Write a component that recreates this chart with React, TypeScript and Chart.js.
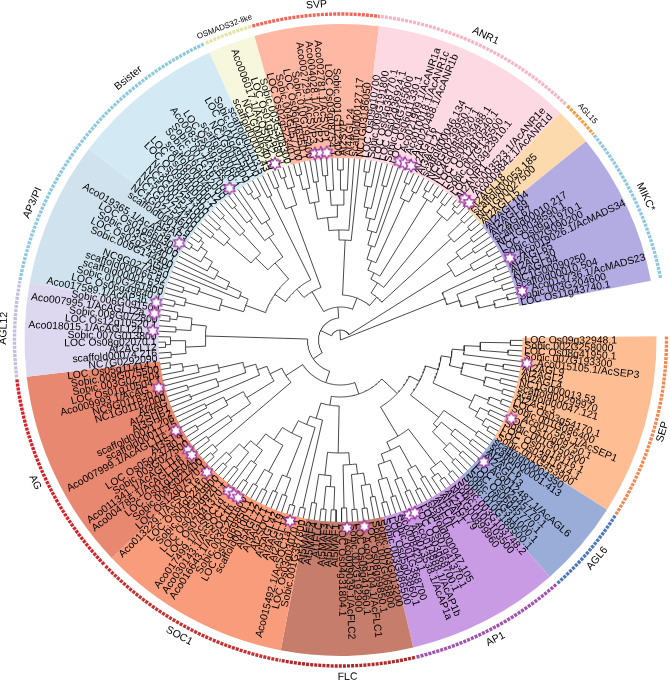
import React, { useEffect, useRef } from "react";
import { Chart, registerables } from "chart.js";

Chart.register(...registerables);

type T = number | T[];

const cladeNames = ["SEP","AGL6","AP1","FLC","SOC1","AG","AGL12","AP3/PI","Bsister","OSMADS32-like","SVP","ANR1","AGL15","MIKC*"];
const cladeBounds = [89.3,122.5,138.5,166.7,190.9,226.4,263.3,280.5,307.2,335.5,344.2,367,404,411,439.2];
const sectorColors = ["#FFBD94","#9AADD9","#C99BE5","#C77D6C","#F89C7C","#E98870","#DDD8F0","#CFE2EE","#D3EAF5","#F6F7DC","#FFB8A4","#FDD9E4","#FDD9AE","#B3ACE2"];
const ringColors = ["#F08A55","#4C78BE","#A050B0","#B02A2A","#C83030","#D82028","#C4BEE0","#8CC8E0","#8CC8E0","#E4E4A0","#F0685A","#F8B4C4","#F0A04A","#90C8E0"];
const cladeLabelAngles = [105.9,130.4,152.6,178.8,208.6,245,272,294,321,339.7,355.9,25.5,47.5,64.9];
const cladeLabelRadii = [335,337,337,337,337,337,337,337,337,334,336,337,335,337];
const cladeLabelSizes = [10.5,10.5,10.5,10.5,10.5,10.5,10.5,10.5,10.5,8,10.5,10.5,8,10.5];

const sepTaxa = ["LOC Os09g32948.1","Sobic.002G258000","LOC Os08g41950.1","Sobic.007G193300","Aco015105.1/AcSEP3","At2AGL9","At2AGL2","At2AGL4","NC1G000013.53","scaffold00299970","scaffold00047.121","At2AGL3","LOC Os03g54170.1","Sobic.001G086400","Aco017563.1/AcSEP1","LOC Os10g09750.1","Sobic.001G050500","LOC Os01g18116.1","LOC Os03g11614.1","Sobic.001G453900"];
const agl6Taxa = ["scaffold00004350","scaffold00001.413","At2AGL6","At2AGL13","Aco012487.1/AcAGL6","LOC Os02g45770.1","LOC Os06g45770.1","Sobic.004G311000.1","Sobic.010G189500.1"];
const ap1Taxa = ["Sobic.003G103748.2","Sobic.010G103500","NC1G00899960","At2AGL79","At5AP1","At1CAL","At5FUL","scaffold000047.105","LOC Os07g41370.1","LOC Os03g68700.1","Aco014888.1/AcAP1b","Aco013538.1/AcAP1a","Aco008420.1","Sobic.001G368700","LOC Os05g03860.1","Sobic.003G086500"];
const flcTaxa = ["Sobic.003G013200","Sobic.007G068800","LOC Os08g69850.1","Aco015104.1/AcFLC1","LOC Os09g41960.1","Sobic.002G192900","Aco009039.1/AcFLC2","LOC Os04g31804.1","At5MAF1","At5MAF2","At5MAF3","At1FLC","At5MAF4","At5MAF5"];
const soc1Taxa = ["Sobic.001G387800","LOC Os03g03070.1","Aco015492.1/AcSOC1a","At2AGL14","At4AGL19","At5AGL42","At2SOC1","At3AGL71","At5AGL72","scaffold00100.12","LOC Os01g69850.1","Sobic.003G201600","Aco016643.1/AcSOC1b","Aco030143.1/AcSOC1c","Aco017499.1/AcSOC1d","LOC Os07g41370.1","LOC Os02g29920.1","Sobic.004G029900","LOC Os04g52410.1","Aco013229.1/AcSOC1e"];
const agTaxa = ["LOC Os12g07570.1","Sobic.008G021400","LOC Os01g10504.2","Aco004785.1/AcAGL11b","Aco011341.1/AcAGL11a","Sobic.003G027500","LOC Os05g23780.1","At3STK","Aco007999.1/AcAGL11c","scaffold00011.15","scaffold00021.206","At3SHP2","At2SHP1","At4AG","NC1G01182000","NC9G01183010","Aco009993.1/AcAG","LOC Os01g10504.1","Sobic.003G027504","Sobic.009G075500","LOC Os05g11414.1"];
const agl12Taxa = ["NC7G0292090","scaffold00074.216","At2AGL12","LOC Os08g02070.1","Sobic.007G013800","Aco018015.1/AcAGL12b","LOC Os12g10520.1","Sobic.008G072800","Aco007995.1/AcAGL12a","Sobic.006G091500"];
const ap3Taxa = ["Aco017589.1/AcAP3b","LOC Os06g49840.1","Sobic.010G261800","scaffold00001.625","scaffold000066.87","NC9G0274550","At5PI","Sobic.009G144400","LOC Os02g24340.1","Sobic.003G366300","LOC Os01g66030.1","Aco019365.1/AcAP3a","At3AP3","scaffold00014.9","NC1G02754600"];
const bsisterTaxa = ["NC1G02754200","NC5G00254400","NC9G00257100","NC3G00254300","LOC Os09g40000.1","LOC Os08g40000.2","scaffold00048.12","Sobic.006G092000","Sobic.007G167000","Aco008359.1/AcBs","LOC Os08g39400.1","scaffold00069.7","NC1G0007800","LOC Os04g49150.1","Sobic.010G165100","scaffold00103.5"];
const osmTaxa = ["scaffold00002.43","NC1G00064010","Aco006017.1/AcOSM32","LOC Os01g52680.1","Sobic.003G308300"];
const svpTaxa = ["LOC Os02g52340.1","Sobic.004G057700","LOC Os06g46950.1","Sobic.010G195400","Aco002729.1/AcSVP3","Aco004028.1/AcSVP2","Aco002781.1/AcSVP1","LOC Os03g08754.1","Sobic.001G112300","At2SVP","At4AGL24","scaffold00127.17","NC1G03186050"];
const anr1Taxa = ["LOC Os09g10700","Sobic.009G191800","LOC Os04g38770.1","LOC Os02g36924.1","Sobic.004G165000","LOC Os06g11330.1","Aco021909.1/AcANR1a","Aco010018.1/AcANR1c","Aco020488.1/AcANR1b","At2AGL16","At3AGL21","scaffold00046.134","NC6G00239950.1","NC4G00850020.1","LOC Os08g33488.1","LOC Os12g10540.1","Sobic.007G135500","LOC Os03g23910.1","At2ANR1","Aco003523.1/AcANR1e","Aco009842.1/AcANR1d"];
const agl15Taxa = ["At2AGL18","scaffold00053.185","NC1G00027500","At2AGL15"];
const mikcTaxa = ["At2AGL104","At2AGL69","At2AGL67","scaffold00010.217","NC1G0038590.1","LOC Os09g11970.1","Sobic.002G090200","Aco019026.1/AcMADS34","At2AGL65","At2AGL30","At2AGL94","NC1G00090250","scaffold00010.504","Aco013736.1/AcMADS23","Sobic.003G204600","LOC Os11g43740.1"];
const allTaxa = [sepTaxa,agl6Taxa,ap1Taxa,flcTaxa,soc1Taxa,agTaxa,agl12Taxa,ap3Taxa,bsisterTaxa,osmTaxa,svpTaxa,anr1Taxa,agl15Taxa,mikcTaxa];

const starAngles = [339.6,323.8,352.2,354,355.8,18.3,20.05,22.05,41.3,43.2,64.2,74.9,301,281.5,278.1,272.8,255.3,241.2,234.1,232.3,225.3,216.6,214.6,213,195.6,178,172.7,158.6,156.7,97.1,114.7,130.4];

// Each tree node: [radius, ...children]; 0 is a tip.
const sepTree: T = [102,[112,[124,[140,[170,0,0],[168,0,0]],0],[125,[148,[165,0,0],0],[150,[165,0,0],[170,0,0]]]],[145,[160,[172,0,0],0],[155,[165,0,0],[165,0,[172,0,0]]]]];
const agl6Tree: T = [125,[165,0,0],[130,[145,[165,0,0],0],[150,[165,0,0],[165,0,0]]]];
const ap1Tree: T = [112,[157,[172,0,0],[165,[172,0,0],0]],[121,[146,[160,0,0],[168,0,0]],[130,[150,[165,0,0],0],[145,[165,0,0],[168,0,0]]]]];
const flcTree: T = [113,[125,[135,[147,[160,0,0],[170,0,0]],[170,0,0]],[168,0,0]],[136,[147,[170,0,0],[170,0,0]],[165,0,0]]];
const soc1Tree: T = [82,[172,0,0],[91,[172,0,0],[105,[147,[165,0,0],[165,0,0]],[120,[150,[168,0,0],[168,0,0]],[135,[150,[170,0,0],0],[145,[165,0,0],[160,[170,0,0],0]]]]]]];
const agTree: T = [65,[165,[172,0,0],0],[78,[110,[135,[165,0,0],0],[130,[150,[168,0,0],0],[150,0,0]]],[88,0,[100,[130,[160,0,0],[160,0,0]],[125,0,[145,0,[160,0,[172,0,0]]]]]]]];
const agl12Tree: T = [135,[155,[170,0,0],[170,[175,0,0],0]],[150,[165,0,0],[165,[172,0,0],0]]];
const ap3Tree: T = [101,[125,[160,[170,0,0],0],[150,[165,0,0],0]],[110,0,[125,0,[140,0,[150,0,[160,0,[168,[176,0,0],[172,0,0]]]]]]]];
const bsTreeA: T = [118,[150,[165,0,0],[165,0,0]],[145,[170,0,0],0]];
const bsTreeB: T = [125,[150,[170,0,0],0],[140,0,[165,[172,0,0],0]]];
const bsTreeC: T = [160,0,0];
const osmTree: T = [142,[165,0,0],[160,[172,0,0],0]];
const svpTree: T = [100,[110,[123,[140,[155,[170,0,0],0],[160,0,0]],[135,[150,[165,0,0],0],[150,[170,0,0],0]]],0],0];
const anr1Tree: T = [68,[75,[85,[99,[113,[125,[135,[156,[170,0,0],0],0],[160,0,0]],0],0],[154,[170,0,0],[165,0,0]]],[165,[172,0,0],[172,0,0]]],[160,[170,0,0],[172,[176,0,0],0]]];
const agl15Tree: T = [150,[170,0,0],[170,0,0]];
const mikcTreeA: T = [131,[145,[165,0,0],[160,0,0]],[150,[170,0,0],0]];
const mikcTreeB: T = [112,[172,0,0],[125,[165,0,0],[142,[170,0,0],[158,[172,0,0],0]]]];

const rootTree: T = [0,
  [10,
    [22,
      [33,[45,[57,[78,[89,sepTree,agl6Tree],ap1Tree],[66,flcTree,soc1Tree]],agTree],agl12Tree],
      [33,
        [56,[67,[80,ap3Tree,[101,bsTreeA,bsTreeB]],bsTreeC],osmTree],
        [45,svpTree,[56,anr1Tree,agl15Tree]]
      ]
    ],
    mikcTreeA
  ],
  mikcTreeB
];

const TIP_R = 182;
const SECTOR_R = 316;
const RING_R = 326;
const STAR_R = 188;
const LONG_LABEL_OFFSET = 14;
const CX = 340.5;
const CY = 340;

const rad = (d: number) => (d * Math.PI) / 180;
const polar = (r: number, deg: number) => ({ x: r * Math.sin(rad(deg)), y: r * Math.cos(rad(deg)) });
const arcPts = (r: number, a: number, b: number) => {
  const n = Math.max(1, Math.ceil(Math.abs(b - a) / 1));
  const out = [] as { x: number; y: number }[];
  for (let i = 0; i <= n; i++) out.push(polar(r, a + ((b - a) * i) / n));
  return out;
};

function tipAngles() {
  const out: number[] = [];
  allTaxa.forEach((list, c) => {
    const a = cladeBounds[c];
    const b = cladeBounds[c + 1];
    list.forEach((_, i) => out.push(a + ((i + 0.5) * (b - a)) / list.length));
  });
  return out;
}

function treePoints(tips: number[]) {
  const pts: { x: number; y: number }[] = [];
  const gap = { x: NaN, y: NaN };
  let idx = 0;
  const walk = (node: T): { a: number; r: number } => {
    if (!Array.isArray(node)) return { a: tips[idx++], r: TIP_R };
    const [r, ...kids] = node as [number, ...T[]];
    const res = kids.map(walk);
    const first = res[0].a;
    const last = res[res.length - 1].a;
    if (r > 0) {
      pts.push(...arcPts(r, first, last), gap);
    }
    res.forEach((k) => pts.push(polar(r, k.a), polar(k.r, k.a), gap));
    return { a: (first + last) / 2, r };
  };
  walk(rootTree);
  return pts;
}

function starImage() {
  const c = document.createElement("canvas");
  c.width = 16;
  c.height = 16;
  const g = c.getContext("2d")!;
  g.beginPath();
  for (let i = 0; i < 12; i++) {
    const r = i % 2 ? 3.5 : 6.4;
    const a = (i * Math.PI) / 6;
    const x = 8 + r * Math.sin(a);
    const y = 8 - r * Math.cos(a);
    if (i) g.lineTo(x, y);
    else g.moveTo(x, y);
  }
  g.closePath();
  g.fillStyle = "#ffffff";
  g.strokeStyle = "#9B2FA0";
  g.lineWidth = 1.2;
  g.fill();
  g.stroke();
  return c;
}

const textPlugin = {
  id: "treeText",
  beforeDatasetsDraw(chart: any) {
    const { ctx, scales } = chart;
    const tips = tipAngles();
    const flat = allTaxa.flat();
    ctx.save();
    ctx.fillStyle = "#000";
    ctx.textBaseline = "middle";
    ctx.font = '10.4px "Liberation Sans"';
    flat.forEach((label: string, i: number) => {
      const a = ((tips[i] % 360) + 360) % 360;
      const extra = label.includes("/Ac") ? LONG_LABEL_OFFSET : 0;
      const p = polar(TIP_R + 2 + extra, a);
      ctx.save();
      ctx.translate(scales.x.getPixelForValue(p.x), scales.y.getPixelForValue(p.y));
      if (a < 180) {
        ctx.rotate(rad(a - 90));
        ctx.textAlign = "left";
      } else {
        ctx.rotate(rad(a + 90));
        ctx.textAlign = "right";
      }
      ctx.fillText(label, 0, 0);
      ctx.restore();
    });
    cladeNames.forEach((name, i) => {
      const a = cladeLabelAngles[i];
      const p = polar(cladeLabelRadii[i], a);
      let rot = a;
      if (a > 90 && a <= 270) rot = a - 180;
      else if (a > 270) rot = a - 360;
      ctx.save();
      ctx.translate(scales.x.getPixelForValue(p.x), scales.y.getPixelForValue(p.y));
      ctx.rotate(rad(rot));
      ctx.textAlign = "center";
      ctx.font = `${cladeLabelSizes[i]}px "Liberation Sans"`;
      ctx.fillText(name, 0, 0);
      ctx.restore();
    });
    ctx.restore();
  },
};

export default function App() {
  const sectorRef = useRef<HTMLCanvasElement>(null);
  const treeRef = useRef<HTMLCanvasElement>(null);

  useEffect(() => {
    const sweeps = sectorColors.map((_, i) => cladeBounds[i + 1] - cladeBounds[i]);
    const sectors = new Chart(sectorRef.current!, {
      type: "doughnut",
      data: {
        labels: [...cladeNames, ""],
        datasets: [{
          data: [...sweeps, 360 - (cladeBounds[14] - cladeBounds[0])],
          backgroundColor: [...sectorColors, "rgba(0,0,0,0)"],
          borderWidth: 0,
          hoverOffset: 0,
        }],
      },
      options: {
        animation: false,
        responsive: false,
        rotation: cladeBounds[0],
        circumference: 360,
        radius: SECTOR_R,
        cutout: `${(TIP_R / SECTOR_R) * 100}%`,
        layout: { autoPadding: false, padding: { left: 2 * CX - 670, top: 0, right: 0, bottom: 0 } },
        plugins: { legend: { display: false }, tooltip: { enabled: false } },
        events: [],
      } as any,
    });

    const tips = tipAngles();
    const star = starImage();
    const rings = cladeNames.map((name, i) => ({
      label: name,
      data: arcPts(RING_R, cladeBounds[i] + 0.1, cladeBounds[i + 1] - 0.1),
      showLine: true,
      borderColor: ringColors[i],
      borderWidth: 3.4,
      borderDash: [3, 1.1],
      pointRadius: 0,
      tension: 0,
    }));
    const tree = new Chart(treeRef.current!, {
      type: "scatter",
      data: {
        datasets: [
          {
            label: "nodes",
            data: starAngles.map((a) => polar(STAR_R, a)),
            pointStyle: star,
            pointRadius: 8,
            showLine: false,
          },
          {
            label: "tree",
            data: treePoints(tips),
            showLine: true,
            spanGaps: false,
            borderColor: "#333333",
            borderWidth: 0.9,
            pointRadius: 0,
            tension: 0,
          },
          ...rings,
        ],
      } as any,
      options: {
        animation: false,
        responsive: false,
        layout: { autoPadding: false, padding: 0 },
        scales: {
          x: { type: "linear", display: false, min: -CX, max: 670 - CX },
          y: { type: "linear", display: false, min: CY - 680, max: CY },
        },
        plugins: { legend: { display: false }, tooltip: { enabled: false } },
        events: [],
      } as any,
      plugins: [textPlugin],
    });
    return () => {
      sectors.destroy();
      tree.destroy();
    };
  }, []);

  const pos: React.CSSProperties = { position: "absolute", left: 0, top: 0 };
  return (
    <div style={{ position: "fixed", left: 0, top: 0, width: 670, height: 680, background: "#fff" }}>
      <canvas ref={sectorRef} width={670} height={680} style={pos} />
      <canvas ref={treeRef} width={670} height={680} style={pos} />
    </div>
  );
}
